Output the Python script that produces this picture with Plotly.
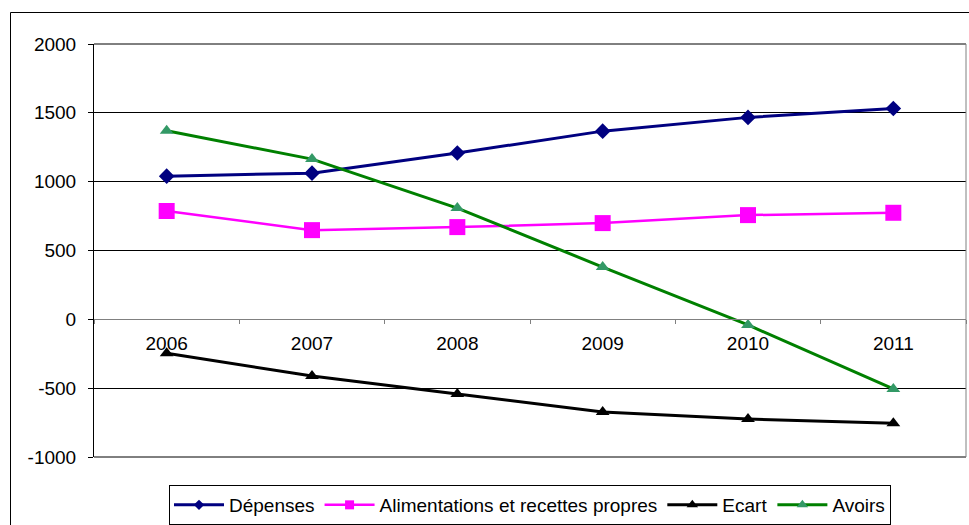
import plotly.graph_objects as go

years = ["2006", "2007", "2008", "2009", "2010", "2011"]
depenses = [1040, 1062, 1208, 1367, 1467, 1532]
alimentations = [787, 648, 670, 699, 757, 774]
ecart = [-247, -412, -542, -673, -724, -755]
avoirs = [1370, 1164, 808, 380, -41, -506]

y_ticks = [-1000, -500, 0, 500, 1000, 1500, 2000]

FONT = "Liberation Sans, Arial, sans-serif"
FS = 19

series = [
    ("Dépenses", depenses, "#000080", "#000080", "diamond", 12, 8, 3),
    ("Alimentations et recettes propres", alimentations, "#FF00FF", "#FF00FF", "square", 16, 9, 2.5),
    ("Ecart", ecart, "#000000", "#000000", "triangle-up", 12, 10, 3),
    ("Avoirs", avoirs, "#008000", "#339966", "triangle-up", 12, 10, 3),
]

fig = go.Figure()
for name, vals, lc, mc, sym, msize, lsize, lw in series:
    fig.add_trace(go.Scatter(x=years, y=vals, name=name, mode="lines+markers",
                             line=dict(color=lc, width=lw), legendgroup=name,
                             showlegend=False,
                             marker=dict(symbol=sym, size=msize, color=mc)))
# legend entries (smaller markers, as in the original legend)
for name, vals, lc, mc, sym, msize, lsize, lw in series:
    fig.add_trace(go.Scatter(x=[None], y=[None], name=name, mode="lines+markers",
                             line=dict(color=lc, width=lw), legendgroup=name,
                             showlegend=True, hoverinfo="skip",
                             marker=dict(symbol=sym, size=lsize, color=mc)))

L, R, T, B = 94, 3, 44, 68
W, H = 969, 525
pw = W - L - R
ph = H - T - B

fig.update_layout(
    width=W, height=H,
    margin=dict(l=L, r=R, t=T, b=B, pad=0, autoexpand=False),
    paper_bgcolor="white", plot_bgcolor="white",
    font=dict(family=FONT, size=FS, color="black"),
    showlegend=True,
    legend=dict(orientation="h", x=0.5, xanchor="center",
                y=((H - B) - 485) / ph, yanchor="top",
                bordercolor="black", borderwidth=1, bgcolor="white",
                font=dict(family=FONT, size=FS, color="black"),
                itemwidth=50, tracegroupgap=0),
    xaxis=dict(type="category", categoryorder="array", categoryarray=years,
               range=[-0.5, 5.5], anchor="free", position=1/3,
               showgrid=False, zeroline=False,
               showline=True, linecolor="#808080", linewidth=1,
               ticks="outside", tickson="boundaries", ticklen=4, tickcolor="#808080",
               ticklabelstandoff=7,
               tickfont=dict(family=FONT, size=FS, color="black")),
    yaxis=dict(range=[-1000, 2000], tickvals=y_ticks, ticktext=[str(v) for v in y_ticks],
               showgrid=True, gridcolor="black", gridwidth=1,
               zeroline=False, showline=True, linecolor="black", linewidth=1,
               ticks="outside", ticklen=5, tickcolor="black",
               ticklabelstandoff=8,
               tickfont=dict(family=FONT, size=FS, color="black")),
)

# plot area frame: top/bottom gridlines and grey right edge
fig.add_shape(type="line", xref="paper", yref="paper", x0=0, x1=1, y0=1, y1=1,
              line=dict(color="black", width=1))
fig.add_shape(type="line", xref="paper", yref="paper", x0=0, x1=1, y0=0, y1=0,
              line=dict(color="black", width=1))
fig.add_shape(type="line", xref="paper", yref="paper", x0=1, x1=1, y0=0, y1=1,
              line=dict(color="#808080", width=1))
# outer chart border
fig.add_shape(type="rect", xref="paper", yref="paper",
              x0=(10.5 - L) / pw, x1=(W + 10 - L) / pw,
              y0=-(B + 20) / ph, y1=((H - B) - 12.5) / ph,
              line=dict(color="black", width=1), fillcolor="rgba(0,0,0,0)", layer="below")

fig.write_html("out.html")
